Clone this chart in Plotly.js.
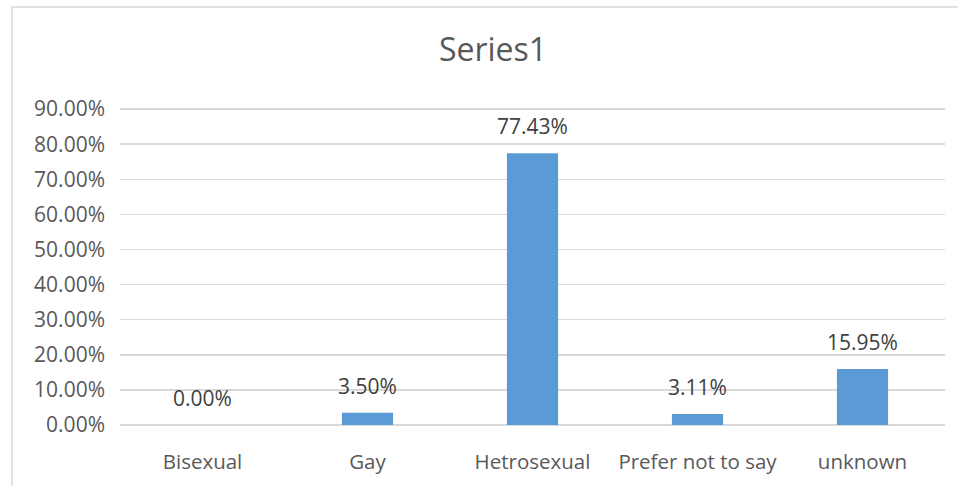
<!DOCTYPE html>
<html>
<head>
<meta charset="utf-8">
<script src="https://cdn.plot.ly/plotly-3.0.1.min.js"></script>
<style>html,body{margin:0;padding:0;background:#fff;}#chart{width:958px;height:486px;}</style>
</head>
<body>
<div id="chart"></div>
<script>
const categories = ["Bisexual", "Gay", "Hetrosexual", "Prefer not to say", "unknown"];
const values = [0.0, 3.50, 77.43, 3.11, 15.95];
const labels = ["0.00%", "3.50%", "77.43%", "3.11%", "15.95%"];
const tickVals = [0, 10, 20, 30, 40, 50, 60, 70, 80, 90];
const tickText = ["0.00%", "10.00%", "20.00%", "30.00%", "40.00%", "50.00%", "60.00%", "70.00%", "80.00%", "90.00%"];

const FONT = "Open Sans, Noto Sans, sans-serif";
const GREY = "#595959";

const trace = {
  type: "bar",
  x: categories,
  y: values,
  marker: {color: "#5B9BD5"},
  hoverinfo: "none"
};

const annotations = categories.map((c, i) => ({
  x: c, y: values[i], xref: "x", yref: "y",
  text: labels[i], showarrow: false, yshift: 27, yanchor: "middle",
  font: {family: FONT, size: 21, color: "#404040"}
}));

const layout = {
  width: 958, height: 486,
  margin: {l: 120, r: 13, t: 108, b: 61},
  paper_bgcolor: "#fff", plot_bgcolor: "#fff",
  showlegend: false,
  bargap: 0.69,
  title: {text: "Series1", x: 0.5146, xanchor: "center", y: 0.897, yanchor: "middle",
          font: {family: FONT, size: 32, color: GREY}},
  xaxis: {
    showgrid: false, showline: false, zeroline: false, ticks: "",
    tickfont: {family: FONT, size: 20.5, color: GREY},
    ticklabelstandoff: 22, fixedrange: true
  },
  yaxis: {
    range: [0, 90.3], tickvals: tickVals, ticktext: tickText,
    showgrid: true, gridcolor: "#d9d9d9", gridwidth: 1.5,
    zeroline: true, zerolinecolor: "#d9d9d9", zerolinewidth: 1.5,
    showline: false, ticks: "",
    tickfont: {family: FONT, size: 21, color: GREY},
    ticklabelstandoff: 14, fixedrange: true
  },
  annotations: annotations,
  shapes: [{
    type: "rect", xref: "paper", yref: "paper",
    x0: (12 - 120) / 825, x1: 1.2, y0: -0.5, y1: (425 - 7) / 317,
    line: {color: "#d9d9d9", width: 1.5}, fillcolor: "rgba(0,0,0,0)", layer: "below"
  }]
};

Plotly.newPlot("chart", [trace], layout, {displayModeBar: false, staticPlot: true});
</script>
</body>
</html>
